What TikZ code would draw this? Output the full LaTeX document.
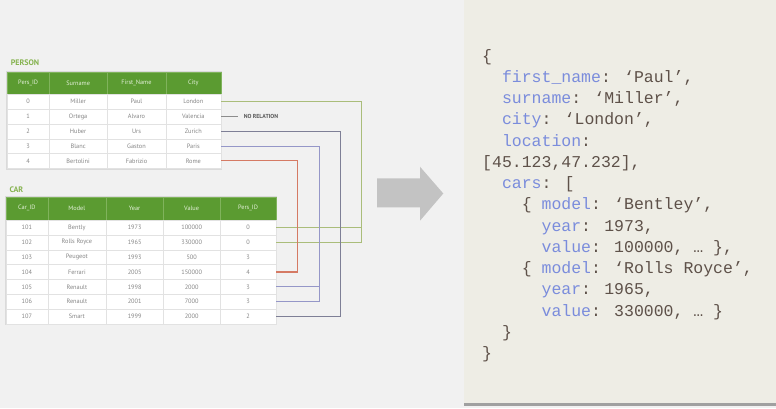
\documentclass[tikz,border=0pt]{standalone}
\usepackage{fontspec}
\newfontfamily\codefont{Liberation Mono}
\newfontfamily\tabfont{PT Sans}
\usetikzlibrary{positioning}
\definecolor{pagebg}{HTML}{F1F1F1}
\definecolor{panelbg}{HTML}{EEEDE5}
\definecolor{panelshade}{HTML}{A0A0A0}
\definecolor{tabshadow}{HTML}{DADADA}
\definecolor{cellline}{HTML}{E2E2E2}
\definecolor{celltext}{HTML}{858585}
\definecolor{headgreen}{HTML}{5B9B31}
\definecolor{headline}{HTML}{80B35C}
\definecolor{headtext}{HTML}{E4F0DA}
\definecolor{titlegreen}{HTML}{86B350}
\definecolor{lgreen}{HTML}{AABD7A}
\definecolor{lslate}{HTML}{7E7F96}
\definecolor{llav}{HTML}{9597C8}
\definecolor{lred}{HTML}{D57A64}
\definecolor{norel}{HTML}{8C8C8C}
\definecolor{arrowgray}{HTML}{C3C3C3}
\definecolor{jkey}{HTML}{7A8CDC}
\definecolor{jval}{HTML}{5E5149}
\newcommand\jk[1]{\textcolor{jkey}{#1}}
\begin{document}
\begin{tikzpicture}[x=1pt,y=-1pt,
	cell/.style={draw=cellline,fill=white,inner sep=0,minimum height=14.8pt,
	text=celltext,font=\tabfont\fontsize{6.3}{7}\selectfont},
	head/.style={draw=headline,fill=headgreen,inner sep=0,minimum height=22.6pt,
	text=headtext,font=\tabfont\fontsize{6.3}{7}\selectfont},
	tabtitle/.style={text=titlegreen,inner sep=0,font=\tabfont\bfseries\fontsize{8}{9}\selectfont},
	link/.style={line width=1.1pt},
	code/.style={inner sep=0,text=jval,font=\codefont\fontsize{16.5}{20}\selectfont}]
\useasboundingbox (0,0) rectangle (776,408);
\fill[pagebg] (0,0) rectangle (776,408);
\fill[panelbg] (464,0) rectangle (776,403);
\fill[panelshade] (464,403) rectangle (776,405.5);
\fill[tabshadow] (6,70.7) rectangle (222.3,169.5);
\fill[tabshadow] (4.8,195.7) rectangle (277.3,325.3);
% person table
\foreach \txt [count=\c] in {Pers\_ID,Surname,First\_Name,City} {
	\pgfmathsetmacro\cx{{28.15,78.15,136.5,193.35}[\c-1]}
	\pgfmathsetmacro\cw{{41.7,58.3,58.4,55.3}[\c-1]}
	\node[head,minimum width=\cw] (p-0-\c) at (\cx,83) {\txt};
}
\foreach \row [count=\r] in {{0,Miller,Paul,London},{1,Ortega,Alvaro,Valencia},
	{2,Huber,Urs,Zurich},{3,Blanc,Gaston,Paris},{4,Bertolini,Fabrizio,Rome}} {
	\foreach \txt [count=\c] in \row {
		\pgfmathsetmacro\cx{{28.15,78.15,136.5,193.35}[\c-1]}
		\pgfmathsetmacro\cw{{41.7,58.3,58.4,55.3}[\c-1]}
		\node[cell,minimum width=\cw] (p-\r-\c) at (\cx,86.9+14.8*\r) {\txt};
	}
}
% car table
\foreach \txt [count=\c] in {Car\_ID,Model,Year,Value,Pers\_ID} {
	\pgfmathsetmacro\cx{{26.85,76.85,134.65,191.65,248}[\c-1]}
	\pgfmathsetmacro\cw{{41.7,58.3,57.3,56.7,56}[\c-1]}
	\node[head,minimum width=\cw,minimum height=23.3pt] (c-0-\c) at (\cx,208.35) {\txt};
}
\foreach \row [count=\r] in {{101,Bently,1973,100000,0},{102,Rolls Royce,1965,330000,0},
	{103,Peugeot,1993,500,3},{104,Ferrari,2005,150000,4},{105,Renault,1998,2000,3},
	{106,Renault,2001,7000,3},{107,Smart,1999,2000,2}} {
	\foreach \txt [count=\c] in \row {
		\pgfmathsetmacro\cx{{26.85,76.85,134.65,191.65,248}[\c-1]}
		\pgfmathsetmacro\cw{{41.7,58.3,57.3,56.7,56}[\c-1]}
		\node[cell,minimum width=\cw,minimum height=14.86pt] (c-\r-\c) at (\cx,212.57+14.86*\r) {\txt};
	}
}
\node[tabtitle,above right=6pt and 3.5pt of p-0-1.north west] (ptitle) {PERSON};
\node[tabtitle,above right=4pt and 3.5pt of c-0-1.north west] (ctitle) {CAR};
% relations
\draw[link,lgreen] (p-1-4.east) -- ++(140,0) coordinate (g) |- (c-2-5.east);
\draw[link,lgreen] (c-1-5.east) -| (g);
\draw[link,norel] (p-2-4.east) -- ++(17,0) node[right=5pt,inner sep=0,text=black!65,
	font=\tabfont\bfseries\fontsize{5.8}{6}\selectfont] (norel) {NO RELATION};
\draw[link,lslate] (p-3-4.east) -- ++(119,0) |- (c-7-5.east);
\draw[link,llav] (p-4-4.east) -- ++(98.3,0) coordinate (v) |- (c-6-5.east);
\draw[link,llav] (c-5-5.east) -| (v);
\draw[link,lred] (p-5-4.east) -- ++(76.3,0) |- (c-4-5.east);
% arrow
\fill[arrowgray] (377,178.3) -- (420,178.3) -- (420,166.7) -- (443.3,193.5)
	-- (420,220.7) -- (420,207.3) -- (377,207.3) -- cycle;
% document
\foreach \ind/\txt [count=\i from 0] in {
	0/{\{},
	2/{\jk{first\_name}: ‘Paul’,},
	2/{\jk{surname}: ‘Miller’,},
	2/{\jk{city}: ‘London’,},
	2/{\jk{location}:},
	0/{[45.123,47.232],},
	2/{\jk{cars}: [},
	4/{\{ \jk{model}: ‘Bentley’,},
	6/{\jk{year}: 1973,},
	6/{\jk{value}: 100000, … \},},
	4/{\{ \jk{model}: ‘Rolls Royce’,},
	6/{\jk{year}: 1965,},
	6/{\jk{value}: 330000, … \}},
	2/{\}},
	0/{\}}} {
	\node[code,anchor=base west] (json-\i) at (482+9.9*\ind,61+21.27*\i) {\txt};
}
\end{tikzpicture}
\end{document}
